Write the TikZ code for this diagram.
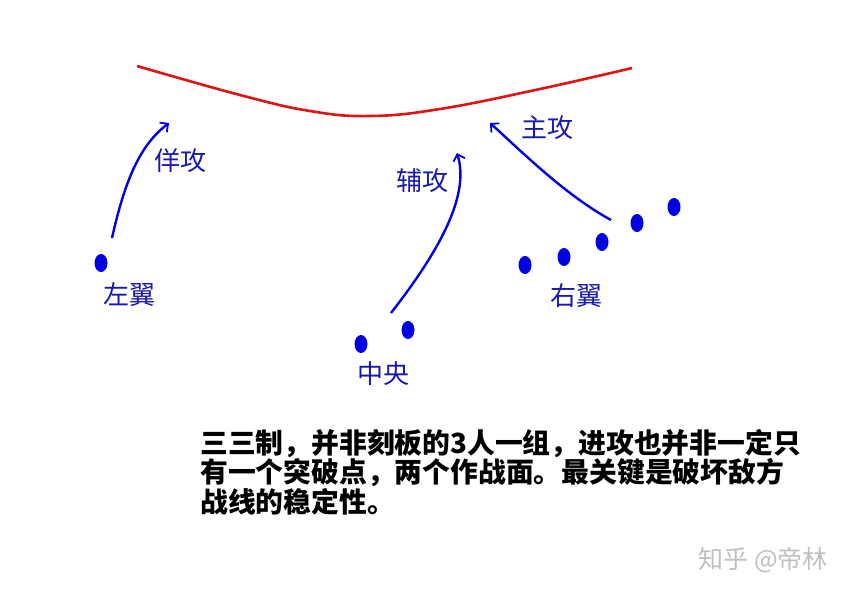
\documentclass[tikz,border=0pt]{standalone}
\usepackage{fontspec}
\usepackage{xcolor}
\usepackage{tikz}
\usetikzlibrary{shapes.geometric,arrows.meta,positioning,calc}
\newfontfamily\cjk{Noto Sans CJK SC}
\definecolor{labelblue}{RGB}{25,25,175}
\definecolor{dotblue}{RGB}{0,0,225}
\definecolor{frontred}{RGB}{225,20,20}

\tikzset{
    unit/.style={ellipse, fill=dotblue, minimum width=13pt, minimum height=18pt, inner sep=0pt},
    wing/.style={text=labelblue, font=\cjk\fontsize{26}{26}\selectfont, inner sep=0pt},
    attack/.style={draw=blue!90!black, line width=2.4pt, -{Straight Barb[length=6pt,width=12pt,line width=1.8pt]}}
}

\begin{document}
\begin{tikzpicture}[x=1pt, y=-1pt]
    \useasboundingbox (0,0) rectangle (850,595);
    \fill[white] (0,0) rectangle (850,595);

    % Enemy front line
    \draw[frontred, line width=2.6pt] plot[smooth, tension=0.7] coordinates {(137,66) (240,95) (310,111) (370,116) (440,109) (540,89) (632,68)};

    % Left wing
    \node[unit] (left1) at (101,263) {};
    \node[wing] (leftlabel) at (129,295) {左翼};

    % Centre
    \node[unit] (centre1) at (361,344) {};
    \node[unit] (centre2) at (408,330) {};
    \node[wing] (centrelabel) at (383,374) {中央};

    % Right wing
    \node[unit] (right1) at (525,265) {};
    \node[unit] (right2) at (564,257) {};
    \node[unit] (right3) at (602,242) {};
    \node[unit] (right4) at (637,223) {};
    \node[unit] (right5) at (674,207) {};
    \node[wing] (rightlabel) at (576,296) {右翼};

    % Attacks
    \coordinate (feintstart) at (112,238);
    \coordinate (feinttip) at (169,123);
    \coordinate (supportstart) at (391,313);
    \coordinate (supporttip) at (457,153);
    \coordinate (mainstart) at (611,220);
    \coordinate (maintip) at (490,123);
    \draw[attack] (feintstart) .. controls (125,180) and (140,145) .. (feinttip);
    \draw[attack] (supportstart) .. controls (440,250) and (470,195) .. (supporttip);
    \draw[attack] (mainstart) .. controls (565,195) and (520,150) .. (maintip);
    \node[wing] (feintlabel) at (180,161) {佯攻};
    \node[wing] (supportlabel) at (422,181) {辅攻};
    \node[wing] (mainlabel) at (547,128) {主攻};

    % Note
    \node[anchor=north west, align=left, inner sep=0pt, font=\cjk\bfseries\fontsize{27.8}{27}\selectfont] (note) at (200,429) {三三制，并非刻板的3人一组，进攻也并非一定只\\有一个突破点，两个作战面。最关键是破坏敌方\\战线的稳定性。};

    \node[anchor=east, inner sep=0pt, text=gray!50, font=\cjk\fontsize{25}{25}\selectfont] (mark) at (828,560) {知乎\hspace{6pt}@帝林};
\end{tikzpicture}
\end{document}
